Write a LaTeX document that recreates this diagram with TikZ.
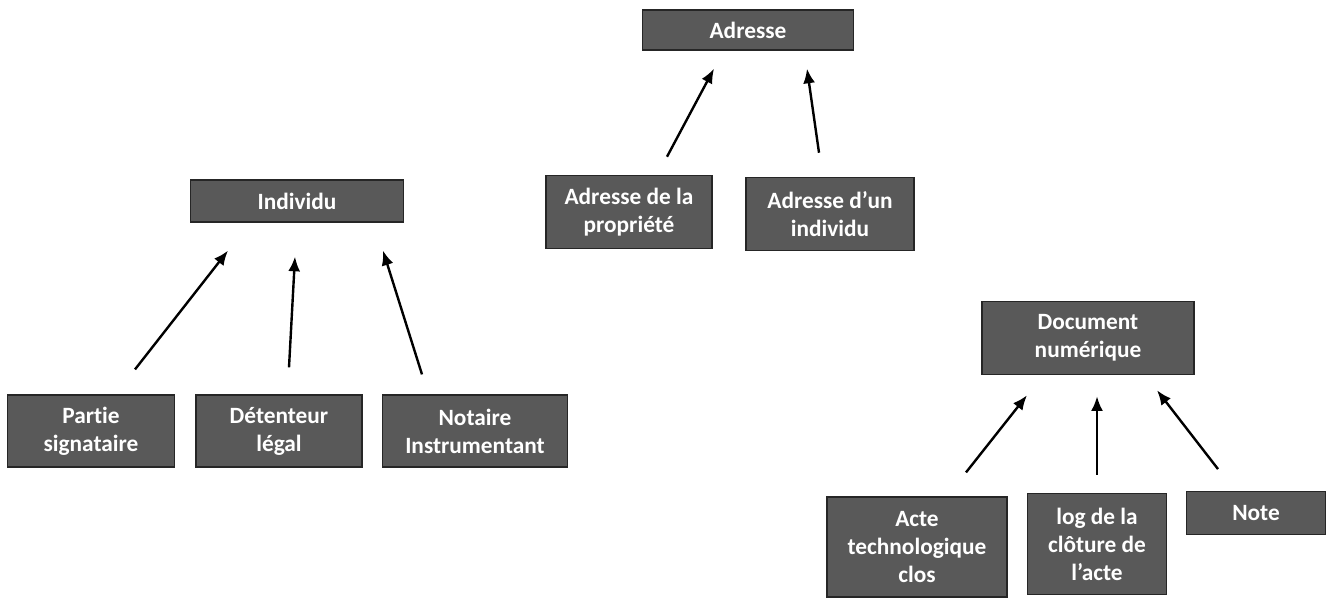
\documentclass[tikz,border=0pt]{standalone}
\usepackage{fontspec}
\setmainfont{Carlito}[Ligatures=NoCommon]
\usetikzlibrary{arrows.meta}
\definecolor{boxgray}{HTML}{595959}
\tikzset{
  entity/.style={draw=black!85, line width=0.9pt, fill=boxgray, text=white,
    font=\fontsize{17.5}{21}\selectfont\bfseries, align=center, inner sep=0pt},
  link/.style={->, line width=1.8pt}
}
\begin{document}
\begin{tikzpicture}[x=0.75pt,y=-0.75pt,>={Latex[length=11pt,width=9pt]}]
\useasboundingbox (0,0) rectangle (1328,597);
% Adresse group
\node[entity, minimum width=158pt, minimum height=30pt] (adr) at (748,30) {Adresse};
\node[entity, minimum width=124.5pt, minimum height=55pt] (adrprop) at (629,212) {Adresse de la\\propriété};
\node[entity, minimum width=126pt, minimum height=55pt] (adrind) at (830,214) {Adresse d’un\\individu};

% Individu group
\node[entity, minimum width=160pt, minimum height=31.5pt] (ind) at (297,201) {Individu};
\node[entity, minimum width=125pt, minimum height=54pt] (partie) at (91,431) {Partie\\signataire};
\node[entity, minimum width=124.5pt, minimum height=54pt] (detent) at (279,431) {Détenteur\\légal};
\node[entity, minimum width=139pt, minimum height=54pt] (notaire) at (475,431) {Notaire\\Instrumentant};

% Document numerique group
\node[entity, minimum width=159pt, minimum height=55pt] (doc) at (1088,338) {Document\\numérique};
\node[entity, minimum width=135pt, minimum height=75pt] (acte) at (917,547) {Acte\\technologique\\clos};
\node[entity, minimum width=104pt, minimum height=76pt] (log) at (1097,544) {log de la\\clôture de\\l’acte};
\node[entity, minimum width=104pt, minimum height=32pt] (note) at (1256,513) {Note};

% Arrows (float between the boxes)
\draw[link] ([shift={(38,-18)}]adrprop.north) -- ([shift={(-34,18)}]adr.south);
\draw[link] ([shift={(-11,-24)}]adrind.north) -- ([shift={(59,18)}]adr.south);

\draw[link] ([shift={(44,-25)}]partie.north) -- ([shift={(-69,28)}]ind.south);
\draw[link] ([shift={(10,-27)}]detent.north) -- ([shift={(-2,34)}]ind.south);
\draw[link] ([shift={(-53,-20)}]notaire.north) -- ([shift={(86,28)}]ind.south);

\draw[link] ([shift={(49,-24)}]acte.north) -- ([shift={(-61,20)}]doc.south);
\draw[link] ([shift={(0,-18)}]log.north) -- ([shift={(9,21)}]doc.south);
\draw[link] ([shift={(-38,-22)}]note.north) -- ([shift={(69,15)}]doc.south);
\end{tikzpicture}
\end{document}
